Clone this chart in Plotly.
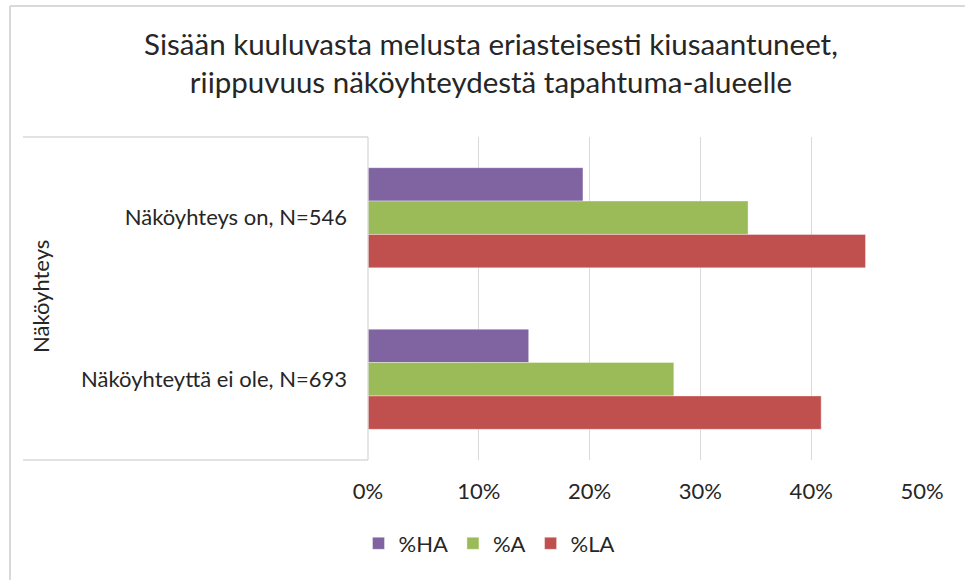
import plotly.graph_objects as go

categories = ["Näköyhteys on, N=546", "Näköyhteyttä ei ole, N=693"]
series_names = ["%HA", "%A", "%LA"]
ha_values = [0.194, 0.145]
a_values = [0.343, 0.276]
la_values = [0.449, 0.409]
x_ticks = [0, 0.1, 0.2, 0.3, 0.4, 0.5]
x_tick_labels = ["0%", "10%", "20%", "30%", "40%", "50%"]
title_text = "Sisään kuuluvasta melusta eriasteisesti kiusaantuneet,<br>riippuvuus näköyhteydestä tapahtuma-alueelle"
axis_title = "Näköyhteys"

colors = ["#8064A2", "#9BBB59", "#C0504D"]
FONT = "Lato"
TXT = "#262626"
GRID = "#d9d9d9"

W, H = 965, 580
L, R, T, B = 368, 43, 137, 120
PW, PH = W - L - R, H - T - B


def px_x(x):
    return (x - L) / PW


def px_y(y):
    return (H - B - y) / PH


fig = go.Figure()
for name, vals, col in zip(series_names, [ha_values, a_values, la_values], colors):
    fig.add_trace(go.Bar(
        y=categories, x=vals, name=name, orientation="h",
        marker=dict(color=col, line=dict(width=0.6, color="rgba(255,255,255,0.6)")),
    ))

fig.update_layout(
    width=W, height=H, autosize=False,
    margin=dict(l=L, r=R, t=T, b=B, pad=0),
    paper_bgcolor="white", plot_bgcolor="white",
    barmode="group", bargap=0.38, bargroupgap=0,
    font=dict(family=FONT, color=TXT, size=22),
    title=dict(text=title_text, x=491 / W, xref="container",
               xanchor="center", y=1 - 55 / H, yref="container", yanchor="top",
               font=dict(family=FONT, size=29.5, color=TXT)),
    showlegend=True,
    legend=dict(orientation="h", x=px_x(489), xref="paper",
                y=-0.2585, yanchor="middle", xanchor="center",
                font=dict(family=FONT, size=22, color=TXT), traceorder="normal",
                itemwidth=30),
)

fig.update_xaxes(range=[0, 0.5], tickvals=x_ticks, ticktext=x_tick_labels,
                 showgrid=True, gridcolor=GRID, gridwidth=1.3,
                 zeroline=False, showline=False, ticks="",
                 ticklabelstandoff=16, tickfont=dict(family=FONT, size=22, color=TXT))
fig.update_yaxes(autorange="reversed", showgrid=False, zeroline=False,
                 showline=False, ticks="", ticklabelstandoff=20,
                 tickfont=dict(family=FONT, size=22, color=TXT))

fig.add_annotation(text=axis_title, textangle=-90, xref="paper", yref="paper",
                   x=px_x(40), y=px_y(297),
                   xanchor="center", yanchor="middle", showarrow=False,
                   font=dict(family=FONT, size=22, color=TXT))

# category axis box lines (top, axis, bottom)
line = dict(color=GRID, width=1.3)
fig.add_shape(type="line", xref="paper", yref="paper", x0=px_x(23), x1=0, y0=1, y1=1, line=line)
fig.add_shape(type="line", xref="paper", yref="paper", x0=px_x(23), x1=0, y0=0, y1=0, line=line)
fig.add_shape(type="line", xref="paper", yref="paper", x0=0, x1=0, y0=0, y1=1, line=line)
# outer chart border (top and left edges visible)
border = dict(color=GRID, width=2)
fig.add_shape(type="line", xref="paper", yref="paper",
              x0=px_x(10), x1=px_x(W), y0=px_y(6), y1=px_y(6), line=border)
fig.add_shape(type="line", xref="paper", yref="paper",
              x0=px_x(10), x1=px_x(10), y0=px_y(6), y1=px_y(H), line=border)

fig.write_html("out.html", config={"displayModeBar": False},
               post_script="document.body.style.margin='0px';")
